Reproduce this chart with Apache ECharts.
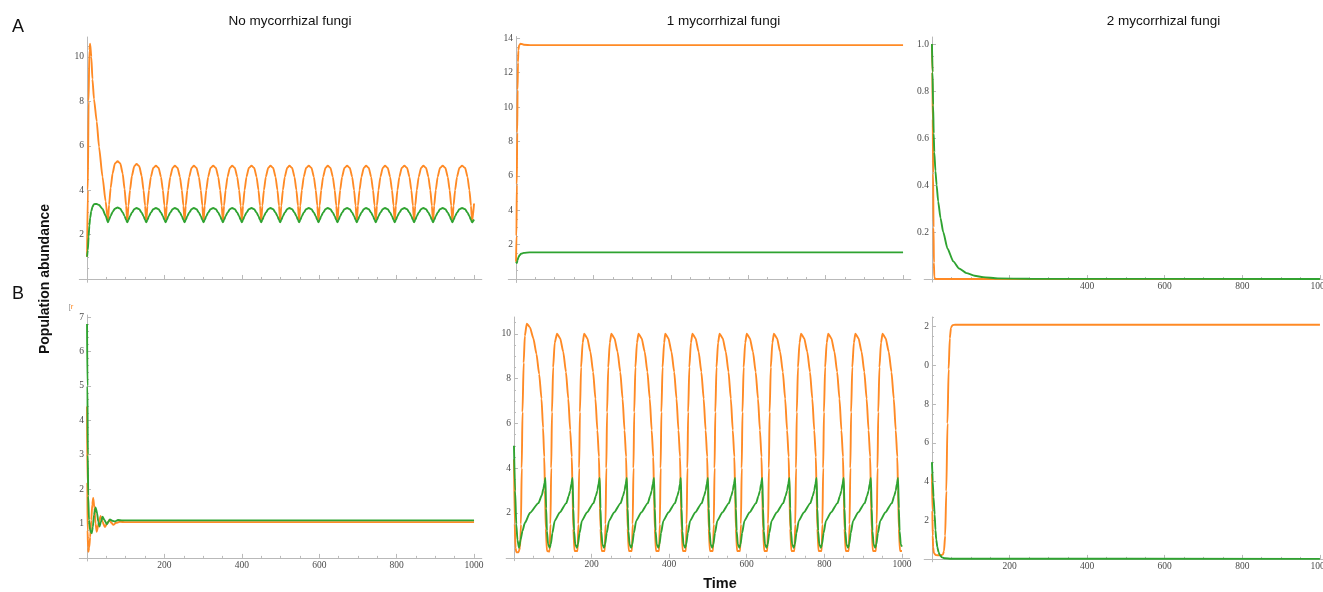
<!DOCTYPE html>
<html>
<head>
<meta charset="utf-8">
<title>Population abundance</title>
<script src="https://cdn.jsdelivr.net/npm/echarts@6/dist/echarts.min.js"></script>
<style>
  html, body { margin: 0; padding: 0; background: #fff; }
  #chart { width: 1323px; height: 592px; }
</style>
</head>
<body>
<div id="chart"></div>
<script>
// ---- texts ----
const columnTitles = ['No mycorrhizal fungi', '1 mycorrhizal fungi', '2 mycorrhizal fungi'];
const rowLetters = ['A', 'B'];
const yAxisTitle = 'Population abundance';
const xAxisTitle = 'Time';

// ---- tick labels ----
const xMajorTicks = [0, 200, 400, 600, 800, 1000];
const xMinorTicks = [50, 100, 150, 250, 300, 350, 450, 500, 550, 650, 700, 750, 850, 900, 950];
const a1XLabels = [];
const a2XLabels = [];
const a3XLabels = [400, 600, 800, 1000];
const bXLabels = [200, 400, 600, 800, 1000];

const a1YTicks = [2, 4, 6, 8, 10];
const a1YLabels = ['2', '4', '6', '8', '10'];
const a2YTicks = [2, 4, 6, 8, 10, 12, 14];
const a2YLabels = ['2', '4', '6', '8', '10', '12', '14'];
const a3YTicks = [0.2, 0.4, 0.6, 0.8, 1.0];
const a3YLabels = ['0.2', '0.4', '0.6', '0.8', '1.0'];
const b1YTicks = [1, 2, 3, 4, 5, 6, 7];
const b1YLabels = ['1', '2', '3', '4', '5', '6', '7'];
const b2YTicks = [2, 4, 6, 8, 10];
const b2YLabels = ['2', '4', '6', '8', '10'];
const b3YTicks = [2, 4, 6, 8, 10, 12];
const b3YLabels = ['2', '4', '6', '8', '0', '2'];   // first digits are cut off in the figure

// ---- A1: no fungi, oscillating (shared time points) ----
const a1Time = [
  0, 2, 4, 6, 8, 11, 14, 18, 25, 31, 40, 48,
  54, 57, 61, 66, 72, 79, 86, 92, 97, 101,
  104, 107, 111, 116, 122, 128, 135, 141, 146, 150,
  153, 156, 160, 165, 171, 178, 185, 191, 196, 200,
  203, 206, 210, 215, 221, 227, 234, 240, 245, 249,
  252, 255, 259, 264, 270, 276, 283, 289, 294, 298,
  301, 304, 308, 313, 319, 326, 333, 339, 344, 348,
  351, 354, 358, 363, 369, 375, 382, 388, 393, 397,
  400, 403, 407, 412, 418, 425, 432, 438, 443, 447,
  450, 453, 457, 462, 468, 474, 481, 487, 492, 496,
  499, 502, 506, 511, 517, 523, 530, 536, 541, 545,
  548, 551, 555, 560, 566, 573, 580, 586, 591, 595,
  598, 601, 605, 610, 616, 622, 629, 635, 640, 644,
  647, 650, 654, 659, 665, 672, 679, 685, 690, 694,
  697, 700, 704, 709, 715, 721, 728, 734, 739, 743,
  746, 749, 753, 758, 764, 770, 777, 783, 788, 792,
  795, 798, 802, 807, 813, 820, 827, 833, 838, 842,
  845, 848, 852, 857, 863, 869, 876, 882, 887, 891,
  894, 897, 901, 906, 912, 919, 926, 932, 937, 941,
  944, 947, 951, 956, 962, 969, 977, 983, 988, 992,
  995, 1000
];
const a1Orange = [
  1.0, 4.0, 8.0, 10.3, 10.6, 10.0, 9.0, 8.1, 7.1, 5.95, 4.6, 3.5,
  2.6, 3.35, 4.1, 4.75, 5.2, 5.3, 5.2, 4.75, 4.05, 3.3,
  2.57, 3.3, 4.0, 4.65, 5.08, 5.18, 5.08, 4.65, 4.0, 3.3,
  2.57, 3.3, 4.0, 4.6, 5.0, 5.1, 5.0, 4.6, 4.0, 3.3,
  2.57, 3.3, 4.0, 4.6, 5.0, 5.1, 5.0, 4.6, 4.0, 3.3,
  2.57, 3.3, 4.0, 4.6, 5.0, 5.1, 5.0, 4.6, 4.0, 3.3,
  2.57, 3.3, 4.0, 4.6, 5.0, 5.1, 5.0, 4.6, 4.0, 3.3,
  2.57, 3.3, 4.0, 4.6, 5.0, 5.1, 5.0, 4.6, 4.0, 3.3,
  2.57, 3.3, 4.0, 4.6, 5.0, 5.1, 5.0, 4.6, 4.0, 3.3,
  2.57, 3.3, 4.0, 4.6, 5.0, 5.1, 5.0, 4.6, 4.0, 3.3,
  2.57, 3.3, 4.0, 4.6, 5.0, 5.1, 5.0, 4.6, 4.0, 3.3,
  2.57, 3.3, 4.0, 4.6, 5.0, 5.1, 5.0, 4.6, 4.0, 3.3,
  2.57, 3.3, 4.0, 4.6, 5.0, 5.1, 5.0, 4.6, 4.0, 3.3,
  2.57, 3.3, 4.0, 4.6, 5.0, 5.1, 5.0, 4.6, 4.0, 3.3,
  2.57, 3.3, 4.0, 4.6, 5.0, 5.1, 5.0, 4.6, 4.0, 3.3,
  2.57, 3.3, 4.0, 4.6, 5.0, 5.1, 5.0, 4.6, 4.0, 3.3,
  2.57, 3.3, 4.0, 4.6, 5.0, 5.1, 5.0, 4.6, 4.0, 3.3,
  2.57, 3.3, 4.0, 4.6, 5.0, 5.1, 5.0, 4.6, 4.0, 3.3,
  2.57, 3.3, 4.0, 4.6, 5.0, 5.1, 5.0, 4.6, 4.0, 3.3,
  2.57, 3.3, 4.0, 4.6, 5.0, 5.1, 5.0, 4.6, 4.0, 3.3,
  2.57, 3.4
];
const a1Green = [
  1.0, 1.3, 1.9, 2.4, 2.75, 3.05, 3.25, 3.37, 3.38, 3.33, 3.15, 2.85,
  2.55, 2.67, 2.84, 3.02, 3.17, 3.22, 3.16, 3.0, 2.83, 2.66,
  2.55, 2.66, 2.82, 2.99, 3.14, 3.2, 3.14, 2.99, 2.82, 2.66,
  2.55, 2.66, 2.82, 2.99, 3.14, 3.2, 3.14, 2.99, 2.82, 2.66,
  2.55, 2.66, 2.82, 2.99, 3.14, 3.2, 3.14, 2.99, 2.82, 2.66,
  2.55, 2.66, 2.82, 2.99, 3.14, 3.2, 3.14, 2.99, 2.82, 2.66,
  2.55, 2.66, 2.82, 2.99, 3.14, 3.2, 3.14, 2.99, 2.82, 2.66,
  2.55, 2.66, 2.82, 2.99, 3.14, 3.2, 3.14, 2.99, 2.82, 2.66,
  2.55, 2.66, 2.82, 2.99, 3.14, 3.2, 3.14, 2.99, 2.82, 2.66,
  2.55, 2.66, 2.82, 2.99, 3.14, 3.2, 3.14, 2.99, 2.82, 2.66,
  2.55, 2.66, 2.82, 2.99, 3.14, 3.2, 3.14, 2.99, 2.82, 2.66,
  2.55, 2.66, 2.82, 2.99, 3.14, 3.2, 3.14, 2.99, 2.82, 2.66,
  2.55, 2.66, 2.82, 2.99, 3.14, 3.2, 3.14, 2.99, 2.82, 2.66,
  2.55, 2.66, 2.82, 2.99, 3.14, 3.2, 3.14, 2.99, 2.82, 2.66,
  2.55, 2.66, 2.82, 2.99, 3.14, 3.2, 3.14, 2.99, 2.82, 2.66,
  2.55, 2.66, 2.82, 2.99, 3.14, 3.2, 3.14, 2.99, 2.82, 2.66,
  2.55, 2.66, 2.82, 2.99, 3.14, 3.2, 3.14, 2.99, 2.82, 2.66,
  2.55, 2.66, 2.82, 2.99, 3.14, 3.2, 3.14, 2.99, 2.82, 2.66,
  2.55, 2.66, 2.82, 2.99, 3.14, 3.2, 3.14, 2.99, 2.82, 2.66,
  2.55, 2.66, 2.82, 2.99, 3.14, 3.2, 3.14, 2.99, 2.82, 2.66,
  2.55, 2.68
];

// ---- A2: one fungus, steady state ----
const a2Orange = [[0, 1.0], [1, 2.5], [2, 5.5], [3, 8.5], [4, 11.0], [5, 12.6], [6, 13.3], [8, 13.6],
  [12, 13.68], [20, 13.62], [40, 13.6], [1000, 13.6]];
const a2Green = [[0, 1.0], [2, 0.93], [4, 1.1], [6, 1.25], [9, 1.38], [13, 1.47], [20, 1.52],
  [35, 1.55], [1000, 1.55]];

// ---- A3: two fungi, collapse ----
const a3Orange = [[0, 1.0], [1, 0.88], [2, 0.68], [3, 0.45], [4, 0.22], [5, 0.07], [6, 0.01],
  [8, 0], [1000, 0]];
const a3Green = [[0, 1.0], [1.5, 0.88], [3, 0.74], [4.5, 0.62], [6, 0.54], [9, 0.46], [12, 0.4],
  [16, 0.33], [22, 0.26], [29, 0.2], [40, 0.13], [55, 0.075], [70, 0.045], [89, 0.025],
  [110, 0.014], [132, 0.008], [170, 0.003], [250, 0.001], [1000, 0]];

// ---- B1: no fungi, damped ----
const b1Orange = [[0, 4.4], [0.7, 2.2], [1.5, 0.8], [2.5, 0.3], [3.5, 0.18], [5.5, 0.3], [8, 0.6],
  [11, 1.1], [13.5, 1.55], [16, 1.74], [19, 1.45], [22, 1.0], [25, 0.76], [30, 1.0], [35, 1.22],
  [40, 1.05], [46, 0.9], [52, 1.0], [58, 1.1], [63, 1.02], [68, 0.96], [75, 1.02], [85, 1.05],
  [100, 1.04], [1000, 1.04]];
const b1Green = [[0, 6.8], [1, 5.0], [2, 3.0], [3, 1.8], [5, 1.1], [8, 0.8], [12, 0.72], [15, 0.9],
  [18, 1.25], [22, 1.47], [26, 1.3], [29, 1.05], [32, 0.91], [36, 1.05], [40, 1.2], [45, 1.1],
  [51, 0.98], [55, 1.05], [59, 1.12], [65, 1.08], [72, 1.06], [80, 1.1], [90, 1.09], [1000, 1.09]];

// ---- B2: one fungus, relaxation cycles ----
const b2Orange = [
  [0, 4.4], [2, 1.5], [4, 0.45], [6, 0.25], [12, 0.25], [16, 0.5], [18, 1.5], [20, 4.0], [22, 6.5], [25, 8.7], [28, 9.9],
  [33, 10.45], [41, 10.3], [50, 9.8], [58, 9.1], [65, 8.2], [71, 7.1], [75, 5.8], [78, 4.5], [80, 3.0], [82, 1.3], [85, 0.3], [92, 0.28], [94, 1.5], [96, 4.0], [98, 6.5], [101, 8.5], [105, 9.6],
  [111, 10.0], [119, 9.8], [127, 9.2], [134, 8.3], [140, 7.1], [145, 5.7], [149, 4.5], [151, 3.0], [153, 1.3], [156, 0.3], [164, 0.3], [166, 1.5], [168, 4.0], [170, 6.5], [173, 8.5], [177, 9.6],
  [181, 10.0], [189, 9.8], [197, 9.2], [204, 8.3], [210, 7.1], [215, 5.7], [219, 4.5], [221, 3.0], [223, 1.3], [226, 0.3], [234, 0.3], [236, 1.5], [238, 4.0], [240, 6.5], [243, 8.5], [247, 9.6],
  [251, 10.0], [259, 9.8], [267, 9.2], [274, 8.3], [280, 7.1], [285, 5.7], [289, 4.5], [291, 3.0], [293, 1.3], [296, 0.3], [304, 0.3], [306, 1.5], [308, 4.0], [310, 6.5], [313, 8.5], [317, 9.6],
  [321, 10.0], [329, 9.8], [337, 9.2], [344, 8.3], [350, 7.1], [355, 5.7], [359, 4.5], [361, 3.0], [363, 1.3], [366, 0.3], [374, 0.3], [376, 1.5], [378, 4.0], [380, 6.5], [383, 8.5], [387, 9.6],
  [390, 10.0], [398, 9.8], [406, 9.2], [413, 8.3], [419, 7.1], [424, 5.7], [428, 4.5], [430, 3.0], [432, 1.3], [435, 0.3], [443, 0.3], [445, 1.5], [447, 4.0], [449, 6.5], [452, 8.5], [456, 9.6],
  [460, 10.0], [468, 9.8], [476, 9.2], [483, 8.3], [489, 7.1], [494, 5.7], [498, 4.5], [500, 3.0], [502, 1.3], [505, 0.3], [513, 0.3], [515, 1.5], [517, 4.0], [519, 6.5], [522, 8.5], [526, 9.6],
  [530, 10.0], [538, 9.8], [546, 9.2], [553, 8.3], [559, 7.1], [564, 5.7], [568, 4.5], [570, 3.0], [572, 1.3], [575, 0.3], [583, 0.3], [585, 1.5], [587, 4.0], [589, 6.5], [592, 8.5], [596, 9.6],
  [600, 10.0], [608, 9.8], [616, 9.2], [623, 8.3], [629, 7.1], [634, 5.7], [638, 4.5], [640, 3.0], [642, 1.3], [645, 0.3], [653, 0.3], [655, 1.5], [657, 4.0], [659, 6.5], [662, 8.5], [666, 9.6],
  [670, 10.0], [678, 9.8], [686, 9.2], [693, 8.3], [699, 7.1], [704, 5.7], [708, 4.5], [710, 3.0], [712, 1.3], [715, 0.3], [723, 0.3], [725, 1.5], [727, 4.0], [729, 6.5], [732, 8.5], [736, 9.6],
  [740, 10.0], [748, 9.8], [756, 9.2], [763, 8.3], [769, 7.1], [774, 5.7], [778, 4.5], [780, 3.0], [782, 1.3], [785, 0.3], [793, 0.3], [795, 1.5], [797, 4.0], [799, 6.5], [802, 8.5], [806, 9.6],
  [810, 10.0], [818, 9.8], [826, 9.2], [833, 8.3], [839, 7.1], [844, 5.7], [848, 4.5], [850, 3.0], [852, 1.3], [855, 0.3], [863, 0.3], [865, 1.5], [867, 4.0], [869, 6.5], [872, 8.5], [876, 9.6],
  [880, 10.0], [888, 9.8], [896, 9.2], [903, 8.3], [909, 7.1], [914, 5.7], [918, 4.5], [920, 3.0], [922, 1.3], [925, 0.3], [933, 0.3], [935, 1.5], [937, 4.0], [939, 6.5], [942, 8.5], [946, 9.6],
  [950, 10.0], [958, 9.8], [966, 9.2], [973, 8.3], [979, 7.1], [984, 5.7], [988, 4.5], [990, 3.0], [992, 1.3], [995, 0.3], [1000, 0.3]
];
const b2Green = [
  [0, 5.0], [3, 3.0], [6, 1.5], [9, 0.8], [13, 0.45], [17, 0.8], [22, 1.2], [28, 1.55], [41, 2.0], [63, 2.44], [72, 2.8], [76, 3.1], [79, 3.35],
  [81, 3.56], [83, 2.2], [85, 1.2], [88, 0.6], [92, 0.45], [95, 0.6], [99, 1.1], [105, 1.65], [118, 2.02], [135, 2.44], [141, 2.75], [145, 3.0], [148, 3.3],
  [151, 3.56], [153, 2.2], [155, 1.2], [158, 0.6], [162, 0.45], [165, 0.6], [169, 1.1], [175, 1.65], [188, 2.02], [205, 2.44], [211, 2.75], [215, 3.0], [218, 3.3],
  [221, 3.56], [223, 2.2], [225, 1.2], [228, 0.6], [232, 0.45], [235, 0.6], [239, 1.1], [245, 1.65], [258, 2.02], [275, 2.44], [281, 2.75], [285, 3.0], [288, 3.3],
  [291, 3.56], [293, 2.2], [295, 1.2], [298, 0.6], [302, 0.45], [305, 0.6], [309, 1.1], [315, 1.65], [328, 2.02], [345, 2.44], [351, 2.75], [355, 3.0], [358, 3.3],
  [361, 3.56], [363, 2.2], [365, 1.2], [368, 0.6], [372, 0.45], [375, 0.6], [379, 1.1], [385, 1.65], [398, 2.02], [415, 2.44], [421, 2.75], [425, 3.0], [428, 3.3],
  [430, 3.56], [432, 2.2], [434, 1.2], [437, 0.6], [441, 0.45], [444, 0.6], [448, 1.1], [454, 1.65], [467, 2.02], [484, 2.44], [490, 2.75], [494, 3.0], [497, 3.3],
  [500, 3.56], [502, 2.2], [504, 1.2], [507, 0.6], [511, 0.45], [514, 0.6], [518, 1.1], [524, 1.65], [537, 2.02], [554, 2.44], [560, 2.75], [564, 3.0], [567, 3.3],
  [570, 3.56], [572, 2.2], [574, 1.2], [577, 0.6], [581, 0.45], [584, 0.6], [588, 1.1], [594, 1.65], [607, 2.02], [624, 2.44], [630, 2.75], [634, 3.0], [637, 3.3],
  [640, 3.56], [642, 2.2], [644, 1.2], [647, 0.6], [651, 0.45], [654, 0.6], [658, 1.1], [664, 1.65], [677, 2.02], [694, 2.44], [700, 2.75], [704, 3.0], [707, 3.3],
  [710, 3.56], [712, 2.2], [714, 1.2], [717, 0.6], [721, 0.45], [724, 0.6], [728, 1.1], [734, 1.65], [747, 2.02], [764, 2.44], [770, 2.75], [774, 3.0], [777, 3.3],
  [780, 3.56], [782, 2.2], [784, 1.2], [787, 0.6], [791, 0.45], [794, 0.6], [798, 1.1], [804, 1.65], [817, 2.02], [834, 2.44], [840, 2.75], [844, 3.0], [847, 3.3],
  [850, 3.56], [852, 2.2], [854, 1.2], [857, 0.6], [861, 0.45], [864, 0.6], [868, 1.1], [874, 1.65], [887, 2.02], [904, 2.44], [910, 2.75], [914, 3.0], [917, 3.3],
  [920, 3.56], [922, 2.2], [924, 1.2], [927, 0.6], [931, 0.45], [934, 0.6], [938, 1.1], [944, 1.65], [957, 2.02], [974, 2.44], [980, 2.75], [984, 3.0], [987, 3.3],
  [990, 3.56], [992, 2.2], [994, 1.2], [997, 0.6], [1000, 0.5]
];

// ---- B3: two fungi ----
const b3Orange = [[0, 4.4], [1, 2.5], [2, 1.2], [3, 0.6], [5, 0.3], [10, 0.2], [20, 0.18], [28, 0.22],
  [31, 0.4], [34, 1.2], [37, 3.5], [40, 7.0], [43, 9.8], [46, 11.4], [49, 11.95], [53, 12.08],
  [60, 12.1], [1000, 12.1]];
const b3Green = [[0, 5.0], [2, 4.0], [4, 3.2], [7, 2.3], [9, 1.5], [11, 1.0], [14, 0.6], [17, 0.35],
  [20, 0.2], [26, 0.08], [33, 0.03], [50, 0.01], [1000, 0]];

// ---- styles / layout ----
const ORANGE = '#ff8a25';
const GREEN = '#2fa331';
const AXIS_GRAY = '#b9b9b9';
const LABEL_GRAY = '#4a4a4a';
const SERIF = '"Liberation Serif", "DejaVu Serif", serif';
const SANS = '"Liberation Sans", Arial, sans-serif';

const panels = [
  { box: [79.3, 37, 402.5, 245.3], yMin: -0.15, yMax: 10.9, yMinorStep: 0.5, yTicks: a1YTicks, yLabels: a1YLabels, xLabels: a1XLabels,
    orange: a1Time.map((t, i) => [t, a1Orange[i]]), green: a1Time.map((t, i) => [t, a1Green[i]]) },
  { box: [508.3, 36.5, 402.5, 246], yMin: -0.2, yMax: 14.1, yMinorStep: 0.5, yTicks: a2YTicks, yLabels: a2YLabels, xLabels: a2XLabels,
    orange: a2Orange, green: a2Green },
  { box: [924.2, 37, 403.5, 245.1], yMin: -0.013, yMax: 1.03, yMinorStep: 0.05, yTicks: a3YTicks, yLabels: a3YLabels, xLabels: a3XLabels,
    orange: a3Orange, green: a3Green },
  { box: [79.3, 315, 402.5, 246], yMin: -0.09, yMax: 7.06, yMinorStep: 0.2, yTicks: b1YTicks, yLabels: b1YLabels, xLabels: bXLabels,
    orange: b1Orange, green: b1Green },
  { box: [506.2, 317, 403.5, 243.7], yMin: -0.13, yMax: 10.75, yMinorStep: 0.5, yTicks: b2YTicks, yLabels: b2YLabels, xLabels: bXLabels,
    orange: b2Orange, green: b2Green },
  { box: [924.2, 317, 403.5, 244.8], yMin: -0.15, yMax: 12.5, yMinorStep: 0.5, yTicks: b3YTicks, yLabels: b3YLabels, xLabels: bXLabels,
    orange: b3Orange, green: b3Green }
];

function minorList(step, max, majors) {
  const out = [];
  for (let k = 1; k * step <= max + 1e-9; k++) {
    const v = +(k * step).toFixed(4);
    if (!majors.some(m => Math.abs(m - v) < 1e-6)) out.push(v);
  }
  return out;
}

const grid = [], xAxis = [], yAxis = [], series = [];

panels.forEach((p, i) => {
  grid.push({ left: p.box[0], top: p.box[1], width: p.box[2], height: p.box[3], containLabel: false, outerBoundsMode: 'none' });

  const baseX = { type: 'value', gridIndex: i, min: -20, max: 1020, position: 'bottom', splitLine: { show: false } };
  // major ticks + labels (labels sit at the grid edge, so pull them back onto the axis line)
  xAxis.push(Object.assign({}, baseX, {
    axisLine: { show: true, onZero: true, onZeroAxisIndex: 2 * i, lineStyle: { color: AXIS_GRAY, width: 1 } },
    axisTick: { show: true, inside: true, length: 4, customValues: xMajorTicks, lineStyle: { color: AXIS_GRAY } },
    axisLabel: { show: p.xLabels.length > 0, customValues: p.xLabels, margin: -0.8, color: LABEL_GRAY,
      fontFamily: SERIF, fontSize: 9.5, formatter: v => String(v) }
  }));
  // minor ticks
  xAxis.push(Object.assign({}, baseX, {
    axisLine: { show: false, onZero: true, onZeroAxisIndex: 2 * i },
    axisTick: { show: true, inside: true, length: 2, customValues: xMinorTicks, lineStyle: { color: AXIS_GRAY } },
    axisLabel: { show: false }
  }));

  const baseY = { type: 'value', gridIndex: i, min: p.yMin, max: p.yMax, position: 'left', splitLine: { show: false } };
  yAxis.push(Object.assign({}, baseY, {
    axisLine: { show: true, onZero: true, onZeroAxisIndex: 2 * i, lineStyle: { color: AXIS_GRAY, width: 1 } },
    axisTick: { show: true, inside: true, length: 4, customValues: [0].concat(p.yTicks), lineStyle: { color: AXIS_GRAY } },
    axisLabel: { show: true, customValues: p.yTicks, margin: -4.7, color: LABEL_GRAY, fontFamily: SERIF, fontSize: 9.5,
      formatter: v => {
        const k = p.yTicks.findIndex(t => Math.abs(t - v) < 1e-6);
        return k >= 0 ? p.yLabels[k] : '';
      } }
  }));
  yAxis.push(Object.assign({}, baseY, {
    axisLine: { show: false, onZero: true, onZeroAxisIndex: 2 * i },
    axisTick: { show: true, inside: true, length: 2, customValues: minorList(p.yMinorStep, p.yMax, p.yTicks), lineStyle: { color: AXIS_GRAY } },
    axisLabel: { show: false }
  }));

  [[p.orange, ORANGE], [p.green, GREEN]].forEach(([data, color], k) => {
    series.push({
      type: 'line',
      xAxisIndex: 2 * i,
      yAxisIndex: 2 * i,
      data: data,
      showSymbol: false,
      symbol: 'none',
      smooth: 0.2,
      smoothMonotone: 'x',
      silent: true,
      z: 3 + k,
      lineStyle: { color: color, width: 1.9 },
      itemStyle: { color: color }
    });
  });
});

function label(text, x, y, size, weight, extra) {
  return Object.assign({
    type: 'text', x: x, y: y, silent: true,
    style: {
      text: text, fontSize: size, fontWeight: weight, fontFamily: SANS, fill: '#111',
      align: 'center', verticalAlign: 'middle', textAlign: 'center', textVerticalAlign: 'middle'
    }
  }, extra || {});
}

const graphic = [
  label(columnTitles[0], 290, 21, 13.5, 'normal'),
  label(columnTitles[1], 723.5, 21, 13.5, 'normal'),
  label(columnTitles[2], 1163.5, 21, 13.5, 'normal'),
  label(rowLetters[0], 18, 27, 18, 'normal'),
  label(rowLetters[1], 18, 294, 18, 'normal'),
  label(yAxisTitle, 45, 279, 14, 'bold', { rotation: Math.PI / 2 }),
  label(xAxisTitle, 720, 584, 14.5, 'bold'),
  {
    type: 'text', x: 71, y: 307, silent: true,
    style: {
      text: '{g|[}{o|r}', fontSize: 8, fontFamily: SERIF, align: 'center', verticalAlign: 'middle',
      textAlign: 'center', textVerticalAlign: 'middle',
      rich: { g: { fill: '#999', fontSize: 8 }, o: { fill: ORANGE, fontSize: 8 } }
    }
  }
];

const chart = echarts.init(document.getElementById('chart'), null, { renderer: 'canvas' });
chart.setOption({
  animation: false,
  backgroundColor: '#ffffff',
  grid: grid,
  xAxis: xAxis,
  yAxis: yAxis,
  series: series,
  graphic: graphic
});
</script>
</body>
</html>
